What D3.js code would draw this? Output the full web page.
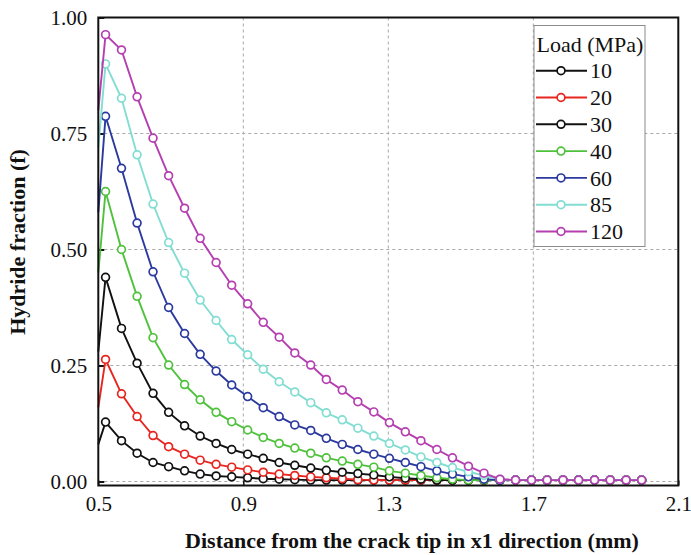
<!DOCTYPE html>
<html>
<head>
<meta charset="utf-8">
<script src="https://cdn.jsdelivr.net/npm/d3@7"></script>
<style>
  html, body { margin: 0; padding: 0; background: #fff; }
  svg { display: block; }
  text { font-family: "Liberation Serif", "Times New Roman", serif; fill: #111; }
</style>
</head>
<body>
<svg id="chart" width="691" height="555"></svg>
<script>
// ---------- data ----------
const xValues = [0.5, 0.52, 0.564, 0.607, 0.651, 0.694, 0.738, 0.781, 0.825, 0.868, 0.912, 0.955,
  0.999, 1.042, 1.086, 1.129, 1.173, 1.216, 1.26, 1.303, 1.347, 1.39, 1.434, 1.477, 1.521,
  1.564, 1.608, 1.651, 1.695, 1.738, 1.782, 1.825, 1.869, 1.912, 1.956, 1.999];

const loads = ["10", "20", "30", "40", "60", "85", "120"];
const colors = ["#111111", "#e8251f", "#111111", "#4fc23c", "#2b3a9f", "#82ddd2", "#b53fb0"];

const load10 = [0.08, 0.128, 0.088, 0.061, 0.041, 0.032, 0.023, 0.016, 0.012, 0.010, 0.008, 0.006,
  0.005, 0.004, 0.003, 0.003, 0.003, 0.003, 0.003, 0.003, 0.003, 0.003, 0.003, 0.003, 0.003,
  0.003, 0.003, 0.003, 0.003, 0.003, 0.003, 0.003, 0.003, 0.003, 0.003, 0.003];
const load20 = [0.16, 0.263, 0.189, 0.140, 0.099, 0.075, 0.059, 0.046, 0.037, 0.031, 0.025, 0.020,
  0.016, 0.013, 0.010, 0.008, 0.006, 0.004, 0.003, 0.003, 0.003, 0.003, 0.003, 0.003, 0.003,
  0.003, 0.003, 0.003, 0.003, 0.003, 0.003, 0.003, 0.003, 0.003, 0.003, 0.003];
const load30 = [0.28, 0.440, 0.330, 0.255, 0.190, 0.149, 0.120, 0.098, 0.082, 0.069, 0.059, 0.050,
  0.041, 0.035, 0.029, 0.024, 0.020, 0.017, 0.014, 0.010, 0.007, 0.005, 0.003, 0.003, 0.003,
  0.003, 0.003, 0.003, 0.003, 0.003, 0.003, 0.003, 0.003, 0.003, 0.003, 0.003];
const load40 = [0.45, 0.625, 0.500, 0.399, 0.310, 0.251, 0.209, 0.176, 0.149, 0.129, 0.111, 0.095,
  0.082, 0.072, 0.061, 0.051, 0.044, 0.037, 0.031, 0.023, 0.018, 0.013, 0.008, 0.005, 0.003,
  0.003, 0.003, 0.003, 0.003, 0.003, 0.003, 0.003, 0.003, 0.003, 0.003, 0.003];
const load60 = [0.58, 0.787, 0.675, 0.557, 0.452, 0.375, 0.319, 0.274, 0.238, 0.208, 0.183, 0.159,
  0.140, 0.122, 0.110, 0.093, 0.080, 0.069, 0.059, 0.050, 0.041, 0.032, 0.023, 0.016, 0.010,
  0.005, 0.003, 0.003, 0.003, 0.003, 0.003, 0.003, 0.003, 0.003, 0.003, 0.003];
const load85 = [0.72, 0.900, 0.826, 0.704, 0.598, 0.515, 0.449, 0.391, 0.347, 0.306, 0.273, 0.242,
  0.215, 0.193, 0.170, 0.148, 0.133, 0.115, 0.098, 0.082, 0.068, 0.053, 0.041, 0.030, 0.021,
  0.013, 0.005, 0.003, 0.003, 0.003, 0.003, 0.003, 0.003, 0.003, 0.003, 0.003];
const load120 = [0.80, 0.963, 0.930, 0.829, 0.740, 0.659, 0.589, 0.524, 0.472, 0.423, 0.383, 0.343,
  0.311, 0.277, 0.251, 0.220, 0.197, 0.172, 0.150, 0.127, 0.107, 0.088, 0.069, 0.051, 0.033,
  0.018, 0.005, 0.003, 0.003, 0.003, 0.003, 0.003, 0.003, 0.003, 0.003, 0.003];

const seriesValues = [load10, load20, load30, load40, load60, load85, load120];

const xTicks = [0.5, 0.9, 1.3, 1.7, 2.1];
const yTicks = [0.00, 0.25, 0.50, 0.75, 1.00];

// ---------- layout ----------
const svg = d3.select("#chart");
const L = 98.3, R = 678.3, T = 17.5, B = 485.5;

const x = d3.scaleLinear().domain([0.5, 2.1]).range([L, R]);
const y = d3.scaleLinear().domain([-0.0086, 1.0]).range([B, T]);

// grid
const grid = svg.append("g");
grid.selectAll("line.gx").data(xTicks.slice(1, -1)).join("line")
  .attr("x1", d => x(d)).attr("x2", d => x(d)).attr("y1", T).attr("y2", B)
  .attr("stroke", "#a8a8a8").attr("stroke-width", 1).attr("stroke-dasharray", "3,3");
grid.selectAll("line.gy").data(yTicks.slice(0, -1)).join("line")
  .attr("x1", L).attr("x2", R).attr("y1", d => y(d)).attr("y2", d => y(d))
  .attr("stroke", "#a8a8a8").attr("stroke-width", 1).attr("stroke-dasharray", "3,3");

// axes (ticks inward, labels)
const yAxis = d3.axisLeft(y).tickValues(yTicks).tickFormat(d3.format(".2f")).tickSize(-6).tickPadding(11);
const gy = svg.append("g").attr("transform", `translate(${L},0)`).call(yAxis);
gy.select(".domain").remove();
gy.selectAll(".tick line").attr("stroke", "#111").attr("stroke-width", 2);
gy.selectAll(".tick text").attr("font-size", 21).attr("font-family", "Liberation Serif").attr("fill", "#222");

const xAxis = d3.axisBottom(x).tickValues(xTicks).tickFormat(d3.format(".1f")).tickSize(-5).tickPadding(11);
const gx = svg.append("g").attr("transform", `translate(0,${B})`).call(xAxis);
gx.select(".domain").remove();
gx.selectAll(".tick line").attr("stroke", "#111").attr("stroke-width", 1.5);
gx.selectAll(".tick text").attr("font-size", 21).attr("font-family", "Liberation Serif").attr("fill", "#222");

// series
const line = d3.line().x((d, i) => x(xValues[i])).y(d => y(d));
const plot = svg.append("g");
seriesValues.forEach((vals, si) => {
  const g = plot.append("g");
  g.append("path").datum(vals).attr("d", line)
    .attr("fill", "none").attr("stroke", colors[si]).attr("stroke-width", 1.9);
  g.selectAll("circle").data(vals.slice(1)).join("circle")
    .attr("cx", (d, i) => x(xValues[i + 1])).attr("cy", d => y(d)).attr("r", 3.9)
    .attr("fill", "#fff").attr("stroke", colors[si]).attr("stroke-width", 1.7);
});

// frame
svg.append("rect").attr("x", L).attr("y", T).attr("width", R - L).attr("height", B - T)
  .attr("fill", "none").attr("stroke", "#111").attr("stroke-width", 2);

// legend
const lg = svg.append("g");
lg.append("rect").attr("x", 534).attr("y", 25.5).attr("width", 111).attr("height", 221)
  .attr("fill", "#fff").attr("stroke", "#8a8a8a").attr("stroke-width", 1);
lg.append("text").attr("x", 536.5).attr("y", 52).attr("font-size", 22).attr("fill", "#222").text("Load (MPa)");
loads.forEach((ld, i) => {
  const cy = 70.7 + i * 26.8;
  lg.append("line").attr("x1", 536).attr("x2", 587).attr("y1", cy).attr("y2", cy)
    .attr("stroke", colors[i]).attr("stroke-width", 1.9);
  lg.append("circle").attr("cx", 561).attr("cy", cy).attr("r", 3.9)
    .attr("fill", "#fff").attr("stroke", colors[i]).attr("stroke-width", 1.7);
  lg.append("text").attr("x", 590).attr("y", cy).attr("dy", "0.35em").attr("font-size", 22)
    .attr("fill", "#222").text(ld);
});

// axis titles
svg.append("text").attr("x", 412).attr("y", 548).attr("text-anchor", "middle")
  .attr("font-size", 22).attr("font-weight", "bold").attr("fill", "#111")
  .text("Distance from the crack tip in x1 direction (mm)");
svg.append("text").attr("transform", "translate(25,242) rotate(-90)").attr("text-anchor", "middle")
  .attr("font-size", 22).attr("font-weight", "bold").attr("fill", "#111")
  .text("Hydride fraction (f)");
</script>
</body>
</html>
